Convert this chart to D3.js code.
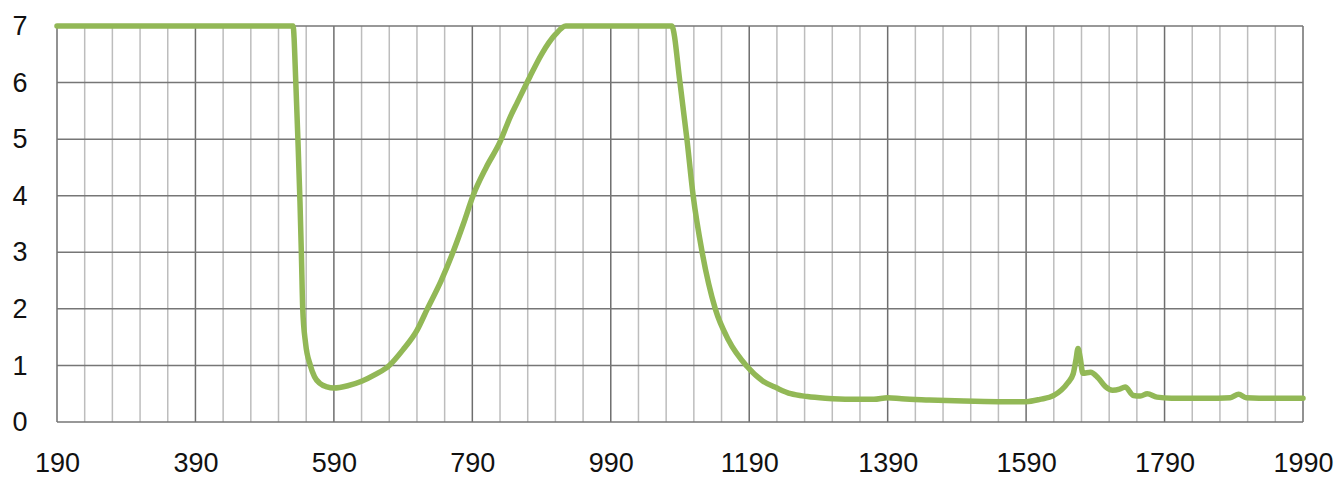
<!DOCTYPE html>
<html lang="en">
<head>
    <meta charset="UTF-8">
    <title>Spectrum</title>
    <script src="https://d3js.org/d3.v7.min.js"></script>
    <style>
        body { margin: 0; background: #fff; overflow: hidden; }
        svg { display: block; }
        .tick text { font-family: "Liberation Sans", Arial, sans-serif; fill: #111; }
    </style>
</head>
<body>
    <div id="chart"></div>
    <script>
        // data
        const wavelength = [190, 531, 535, 538, 541, 543, 545, 549, 556, 562, 570, 580, 590, 610, 630, 650, 670, 690, 710, 725, 745, 762, 777, 791, 810, 830, 845, 855, 873, 890, 910, 925,
            1078, 1090, 1100, 1109, 1122, 1141, 1160, 1187, 1210, 1230, 1250, 1274, 1300, 1336, 1370, 1390, 1410, 1450, 1500, 1550, 1590, 1610, 1630, 1650, 1658, 1662, 1665, 1668,
            1672, 1683, 1694, 1705, 1715, 1725, 1733, 1745, 1755, 1765, 1779, 1800, 1850, 1885, 1897, 1908, 1950, 1990];
        const absorbance = [7, 7, 6, 5, 3.9, 3, 2, 1.4, 1.0, 0.8, 0.68, 0.62, 0.6, 0.64, 0.72, 0.84, 1.0, 1.28, 1.62, 2.0, 2.5, 3.0, 3.5, 4.0, 4.5, 4.95, 5.4, 5.65, 6.1, 6.5, 6.85, 7.0,
            7.0, 6.0, 5.0, 4.0, 3.0, 2.0, 1.45, 0.98, 0.72, 0.6, 0.5, 0.45, 0.42, 0.4, 0.4, 0.43, 0.41, 0.39, 0.37, 0.36, 0.36, 0.4, 0.47, 0.69, 0.85, 1.1, 1.3, 1.15,
            0.86, 0.88, 0.78, 0.62, 0.56, 0.58, 0.62, 0.47, 0.46, 0.5, 0.44, 0.42, 0.42, 0.43, 0.49, 0.43, 0.42, 0.42];
        const xTicks = [190, 390, 590, 790, 990, 1190, 1390, 1590, 1790, 1990];
        const yTicks = [0, 1, 2, 3, 4, 5, 6, 7];
        const minorStep = 40;

        const width = 1339, height = 477;
        const margin = { top: 26, right: 36, bottom: 55, left: 57 };

        const svg = d3.select("#chart").append("svg")
            .attr("width", width)
            .attr("height", height);

        const x = d3.scaleLinear().domain([190, 1990]).range([margin.left, width - margin.right]);
        const y = d3.scaleLinear().domain([0, 7]).range([height - margin.bottom, margin.top]);

        // minor vertical grid
        const minor = d3.range(190, 1990 + 1, minorStep).filter(v => !xTicks.includes(v));
        svg.append("g")
            .selectAll("line")
            .data(minor)
            .join("line")
            .attr("x1", d => x(d)).attr("x2", d => x(d))
            .attr("y1", y(0)).attr("y2", y(7))
            .attr("stroke", "#bdbdbd")
            .attr("stroke-width", 1.5);

        // major vertical grid
        svg.append("g")
            .selectAll("line")
            .data(xTicks)
            .join("line")
            .attr("x1", d => x(d)).attr("x2", d => x(d))
            .attr("y1", y(0)).attr("y2", y(7))
            .attr("stroke", "#6e6e6e")
            .attr("stroke-width", 1.5);

        // horizontal grid
        svg.append("g")
            .selectAll("line")
            .data(yTicks)
            .join("line")
            .attr("x1", x(190)).attr("x2", x(1990))
            .attr("y1", d => y(d)).attr("y2", d => y(d))
            .attr("stroke", "#767676")
            .attr("stroke-width", 1.5);

        // axes (labels only)
        const xAxis = svg.append("g")
            .attr("transform", `translate(0,${y(0)})`)
            .call(d3.axisBottom(x).tickValues(xTicks).tickSize(0).tickPadding(31).tickFormat(d3.format("d")));
        const yAxis = svg.append("g")
            .attr("transform", `translate(${margin.left},0)`)
            .call(d3.axisLeft(y).tickValues(yTicks).tickSize(0).tickFormat(d3.format("d")));
        [xAxis, yAxis].forEach(a => {
            a.select(".domain").remove();
            a.selectAll("text").style("font-size", "27px");
        });
        yAxis.selectAll("text").attr("text-anchor", "middle").attr("x", -37);

        const line = d3.line()
            .x((d, i) => x(wavelength[i]))
            .y(d => y(d))
            .curve(d3.curveMonotoneX);

        svg.append("path")
            .datum(absorbance)
            .attr("d", line)
            .attr("fill", "none")
            .attr("stroke", "#92b856")
            .attr("stroke-width", 5.5)
            .attr("stroke-linejoin", "round")
            .attr("stroke-linecap", "round");
    </script>
</body>
</html>
